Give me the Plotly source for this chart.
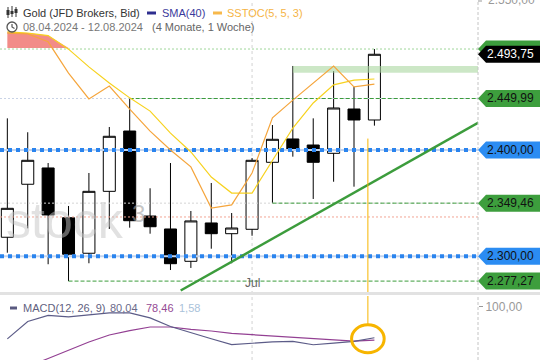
import numpy as np
import plotly.graph_objects as go

FONT = "Liberation Sans, Arial, sans-serif"

# ---------------- data (weekly candles 08.04.2024 - 12.08.2024) ----------------
weeks = ["08.04.", "15.04.", "22.04.", "29.04.", "06.05.", "13.05.", "20.05.", "27.05.",
         "03.06.", "10.06.", "17.06.", "24.06.", "01.07.", "08.07.", "15.07.", "22.07.",
         "29.07.", "05.08.", "12.08."]
idx = list(range(len(weeks)))
opens = [2317.6, 2367.3, 2382.8, 2335.8, 2302.8, 2360.6, 2418.3, 2337.4, 2325.3, 2295.4,
         2330.9, 2320.9, 2325.0, 2388.2, 2410.6, 2404.8, 2396.8, 2439.7, 2429.0]
highs = [2430.6, 2417.1, 2387.5, 2346.8, 2378.0, 2422.2, 2449.99, 2363.5, 2387.5, 2342.1,
         2368.5, 2340.2, 2392.3, 2424.1, 2482.1, 2430.6, 2477.1, 2461.6, 2499.0]
lows = [2303.3, 2325.9, 2292.7, 2277.27, 2293.6, 2325.3, 2326.5, 2320.9, 2287.4, 2289.3,
        2307.0, 2293.6, 2319.0, 2349.46, 2393.6, 2353.4, 2369.7, 2365.0, 2423.5]
closes = [2344.6, 2390.1, 2338.4, 2301.9, 2360.6, 2413.2, 2333.0, 2327.4, 2293.2, 2332.8,
          2320.9, 2326.2, 2390.1, 2410.3, 2399.7, 2388.2, 2440.7, 2429.0, 2493.75]

# slow stochastic (overlay, 0-100 scale)
stoch_k = [85.3, 85.0, 82.2, 71.1, 61.9, 66.5, 58.3, 50.5, 43.8, 37.8,
           23.2, 24.3, 35.6, 55.2, 61.5, 67.6, 73.6, 66.2, 67.2]
stoch_d = [85.7, 85.3, 84.4, 79.6, 73.3, 67.6, 62.3, 57.6, 49.8, 43.1,
           34.2, 28.5, 28.5, 40.2, 51.6, 60.5, 66.9, 68.6, 69.0]
stoch_upper = 80

# MACD(12, 26, 9)
macd_line = [79.3, 90.6, 94.5, 93.5, 94.8, 96.1, 96.1, 92.9, 87.3, 83.6,
             79.4, 75.6, 76.6, 77.3, 77.7, 75.5, 76.6, 77.7, 80.04]
macd_signal = [57.0, 61.2, 66.6, 72.1, 77.3, 81.8, 84.7, 87.0, 87.0, 85.4,
               84.4, 82.8, 82.0, 81.2, 80.2, 79.2, 78.4, 77.9, 78.46]

# horizontal levels
green_levels = [2449.99, 2349.46, 2277.27]
green_level_start = [6, 13, 3]
green_level_text = ["2.449,99", "2.349,46", "2.277,27"]
blue_levels = [2400.0, 2300.0]
blue_level_text = ["2.400,00", "2.300,00"]
high_level = 2499.0
salmon_level = 2336.5
last_price = 2493.75
last_price_text = "2.493,75"
zone_start, zone_lo, zone_hi = 14, 2475.4, 2482.1
trend_x = [8.5, 23.1]
trend_y = [2268.7, 2426.4]
cursor_x = 17.68
cursor_macd = 79.4
jul_idx = 12

# ---------------- layout geometry ----------------
W, H = 540, 360
PW = 478
XR = [-0.36, 23.08]
X_END = 23.1
R0, R1 = 3.35552, 3.40629
D0, D1 = 1 - 292 / H, 1.0
M2 = [65.6, 107.1]
S3 = [-6.62, 97.04]


def px(x):
    return x / PW


def py(y):
    return 1 - y / H


def ypap(p):
    return D0 + (np.log10(p) - R0) / (R1 - R0) * (D1 - D0)


fig = go.Figure()

# light full-width reference lines
for lv, col in [(green_levels[0], "#c9d3e6"), (green_levels[1], "#d4d4d4"),
                (salmon_level, "#f2a594"), (high_level, "#9fd69a")]:
    fig.add_trace(go.Scatter(x=[XR[0], X_END], y=[lv, lv], mode="lines",
                             line=dict(color=col, width=1, dash="2px,2px"), hoverinfo="skip"))

# resistance zone
fig.add_trace(go.Scatter(x=[zone_start, X_END, X_END, zone_start, zone_start],
                         y=[zone_lo, zone_lo, zone_hi, zone_hi, zone_lo], mode="lines",
                         fill="toself", fillcolor="rgba(170,215,160,0.6)",
                         line=dict(width=0), hoverinfo="skip"))

# stochastic overbought fill
k = np.array(stoch_k)
d = np.array(stoch_d)
top = np.maximum(np.maximum(k, d), stoch_upper)
fig.add_trace(go.Scatter(x=idx, y=[stoch_upper] * len(idx), yaxis="y3", mode="lines",
                         line=dict(width=0), hoverinfo="skip"))
fig.add_trace(go.Scatter(x=idx, y=top, yaxis="y3", mode="lines", fill="tonexty",
                         fillcolor="rgba(240,120,115,0.85)", line=dict(width=0),
                         hoverinfo="skip"))

# candles
fig.add_trace(go.Candlestick(
    x=idx, open=opens, high=highs, low=lows, close=closes,
    increasing=dict(fillcolor="#ffffff", line=dict(color="#000000", width=1)),
    decreasing=dict(fillcolor="#000000", line=dict(color="#000000", width=1)),
    whiskerwidth=0, hoverinfo="skip"))

# stochastic lines
fig.add_trace(go.Scatter(x=idx, y=stoch_d, yaxis="y3", mode="lines",
                         line=dict(color="#f7d21e", width=1.2), hoverinfo="skip"))
fig.add_trace(go.Scatter(x=idx, y=stoch_k, yaxis="y3", mode="lines",
                         line=dict(color="#f5a53c", width=1.2), hoverinfo="skip"))

# green dashed levels
for lv, st in zip(green_levels, green_level_start):
    fig.add_trace(go.Scatter(x=[st, X_END], y=[lv, lv], mode="lines",
                             line=dict(color="#3c9c3c", width=1, dash="4px,2px"),
                             hoverinfo="skip"))

# blue round-number levels
for lv in blue_levels:
    fig.add_trace(go.Scatter(x=[XR[0], X_END], y=[lv, lv], mode="lines",
                             line=dict(color="#c3d4ee", width=2), hoverinfo="skip"))
    fig.add_trace(go.Scatter(x=[XR[0], X_END], y=[lv, lv], mode="lines",
                             line=dict(color="#2a84ee", width=4, dash="4px,4px"),
                             hoverinfo="skip"))

# trend line
fig.add_trace(go.Scatter(x=trend_x, y=trend_y, mode="lines",
                         line=dict(color="#3c9c3c", width=2.5), hoverinfo="skip"))

# cursor line (main panel)
fig.add_trace(go.Scatter(x=[cursor_x, cursor_x], y=[2411.0, 2200.0], mode="lines",
                         line=dict(color="#f7b500", width=1), hoverinfo="skip"))

# MACD panel
fig.add_trace(go.Scatter(x=idx, y=macd_signal, xaxis="x2", yaxis="y2", mode="lines",
                         line=dict(color="#934093", width=1.2), hoverinfo="skip"))
fig.add_trace(go.Scatter(x=idx, y=macd_line, xaxis="x2", yaxis="y2", mode="lines",
                         line=dict(color="#5c5c88", width=1.2), hoverinfo="skip"))
fig.add_trace(go.Scatter(x=[cursor_x, cursor_x], y=[M2[1], cursor_macd + 9.1], xaxis="x2",
                         yaxis="y2", mode="lines", line=dict(color="#f7b500", width=1),
                         hoverinfo="skip"))
fig.add_shape(type="circle", xref="x2", yref="y2", x0=cursor_x - 0.8, x1=cursor_x + 0.8,
              y0=cursor_macd - 9.1, y1=cursor_macd + 9.1,
              line=dict(color="#f7b500", width=3))

# grid / frame shapes
fig.add_shape(type="line", xref="x", yref="paper", x0=jul_idx, x1=jul_idx, y0=0, y1=1,
              line=dict(color="#d2d2d2", width=1, dash="dot"), layer="below")
fig.add_shape(type="line", xref="paper", yref="paper", x0=1, x1=1, y0=0, y1=1,
              line=dict(color="#c4c4c4", width=1, dash="3px,2px"))
fig.add_shape(type="rect", xref="paper", yref="paper", x0=0, x1=px(W), y0=py(295),
              y1=py(292), fillcolor="#e2e2e2", line=dict(width=0))


# price tags
def add_tag(price, fill, tcol, text):
    yc = ypap(price)
    h = 8.5 / H
    path = (f"M {px(478)},{yc} L {px(486)},{yc + h} L {px(541)},{yc + h} "
            f"L {px(541)},{yc - h} L {px(486)},{yc - h} Z")
    fig.add_shape(type="path", path=path, xref="paper", yref="paper", fillcolor=fill,
                  line=dict(width=0))
    if text:
        fig.add_annotation(x=px(511), y=yc, xref="paper", yref="paper", text=text,
                           showarrow=False, xanchor="center", yanchor="middle",
                           font=dict(size=12, color=tcol, family=FONT))


add_tag(high_level, "#3d9e3d", "#111111", "")
add_tag(last_price, "#000000", "#ffffff", last_price_text)
for lv, t in zip(green_levels, green_level_text):
    add_tag(lv, "#3d9e3d", "#111111", t)
for lv, t in zip(blue_levels, blue_level_text):
    add_tag(lv, "#2b8cf2", "#111111", t)

# top axis label 2.550,00
fig.add_shape(type="line", xref="paper", yref="paper", x0=px(478), x1=px(482), y0=py(1),
              y1=py(1), line=dict(color="#999999", width=1))
fig.add_annotation(x=px(486), y=py(0), xref="paper", yref="paper", text="2.550,00",
                   showarrow=False, xanchor="left", yanchor="middle",
                   font=dict(size=12, color="#999999", family=FONT))


def text(x, y, s, color, size=11, anchor="left"):
    fig.add_annotation(x=px(x), y=py(y), xref="paper", yref="paper", text=s, showarrow=False,
                       xanchor=anchor, yanchor="middle",
                       font=dict(size=size, color=color, family=FONT))


# header
text(21, 13, "Gold (JFD Brokers, Bid)", "#333333")
text(160, 13, "SMA(40)", "#3a3a9c")
text(225, 13, "SSTOC(5, 5, 3)", "#f5b445")
text(21, 27, "08.04.2024 - 12.08.2024", "#777777")
text(150, 27, "(4 Monate, 1 Woche)", "#666666")
for x0, x1, col, yy in [(147, 156, "#2e2e8f", 13), (213, 222, "#f7b84b", 13),
                        (10, 17, "#5a5a80", 308)]:
    fig.add_shape(type="line", xref="paper", yref="paper", x0=px(x0), x1=px(x1),
                  y0=py(yy), y1=py(yy), line=dict(color=col, width=3))
# candle icon
for cx, b0, b1, w0, w1 in [(8, 10, 15, 7, 18), (12, 11, 14, 6, 17), (16, 9, 13, 7, 17)]:
    fig.add_shape(type="line", xref="paper", yref="paper", x0=px(cx), x1=px(cx),
                  y0=py(w1), y1=py(w0), line=dict(color="#333333", width=1))
    fig.add_shape(type="rect", xref="paper", yref="paper", x0=px(cx - 1.5), x1=px(cx + 1.5),
                  y0=py(b1), y1=py(b0), fillcolor="#333333", line=dict(width=0))
# clock icon
fig.add_shape(type="circle", xref="paper", yref="paper", x0=px(7), x1=px(17), y0=py(32),
              y1=py(22), line=dict(color="#555555", width=1.3))
fig.add_shape(type="path", xref="paper", yref="paper",
              path=f"M {px(12)},{py(24)} L {px(12)},{py(27)} L {px(14.5)},{py(28.5)}",
              line=dict(color="#555555", width=1.2))

# MACD legend
text(21, 308, "MACD(12, 26, 9)", "#5f5f80")
text(108, 308, "80,04", "#6a6a8a")
text(144, 308, "78,46", "#944a94")
text(177, 308, "1,58", "#a9c2da")

# Jul label
fig.add_annotation(x=jul_idx, y=py(283), xref="x", yref="paper", text="Jul",
                   showarrow=False, xanchor="center", yanchor="middle",
                   font=dict(size=12, color="#666666", family=FONT))

# watermark
text(4, 221, "stock", "rgba(195,195,195,0.5)", size=50)
text(130, 213, "3", "rgba(160,160,160,0.6)", size=24)

fig.update_layout(
    width=W, height=H, margin=dict(l=0, r=W - PW, t=0, b=0),
    paper_bgcolor="#ffffff", plot_bgcolor="#ffffff", showlegend=False,
    boxgap=0.41, boxgroupgap=0,
    font=dict(family=FONT),
    xaxis=dict(domain=[0, 1], range=XR, visible=False, anchor="y",
               rangeslider=dict(visible=False)),
    yaxis=dict(domain=[D0, D1], type="log", range=[R0, R1], visible=False),
    yaxis3=dict(overlaying="y", range=S3, visible=False),
    xaxis2=dict(domain=[0, 1], range=XR, visible=False, anchor="y2"),
    yaxis2=dict(domain=[0, 64 / H], range=M2, side="right", tickvals=[100],
                ticktext=["100,00"], ticks="outside", ticklen=4, tickcolor="#999999",
                tickfont=dict(size=12, color="#999999", family=FONT),
                showgrid=False, zeroline=False, showline=False, anchor="x2"),
)

fig.write_html("out.html", config={"displayModeBar": False},
               post_script="document.body.style.margin='0px';document.body.style.overflow='hidden';")
